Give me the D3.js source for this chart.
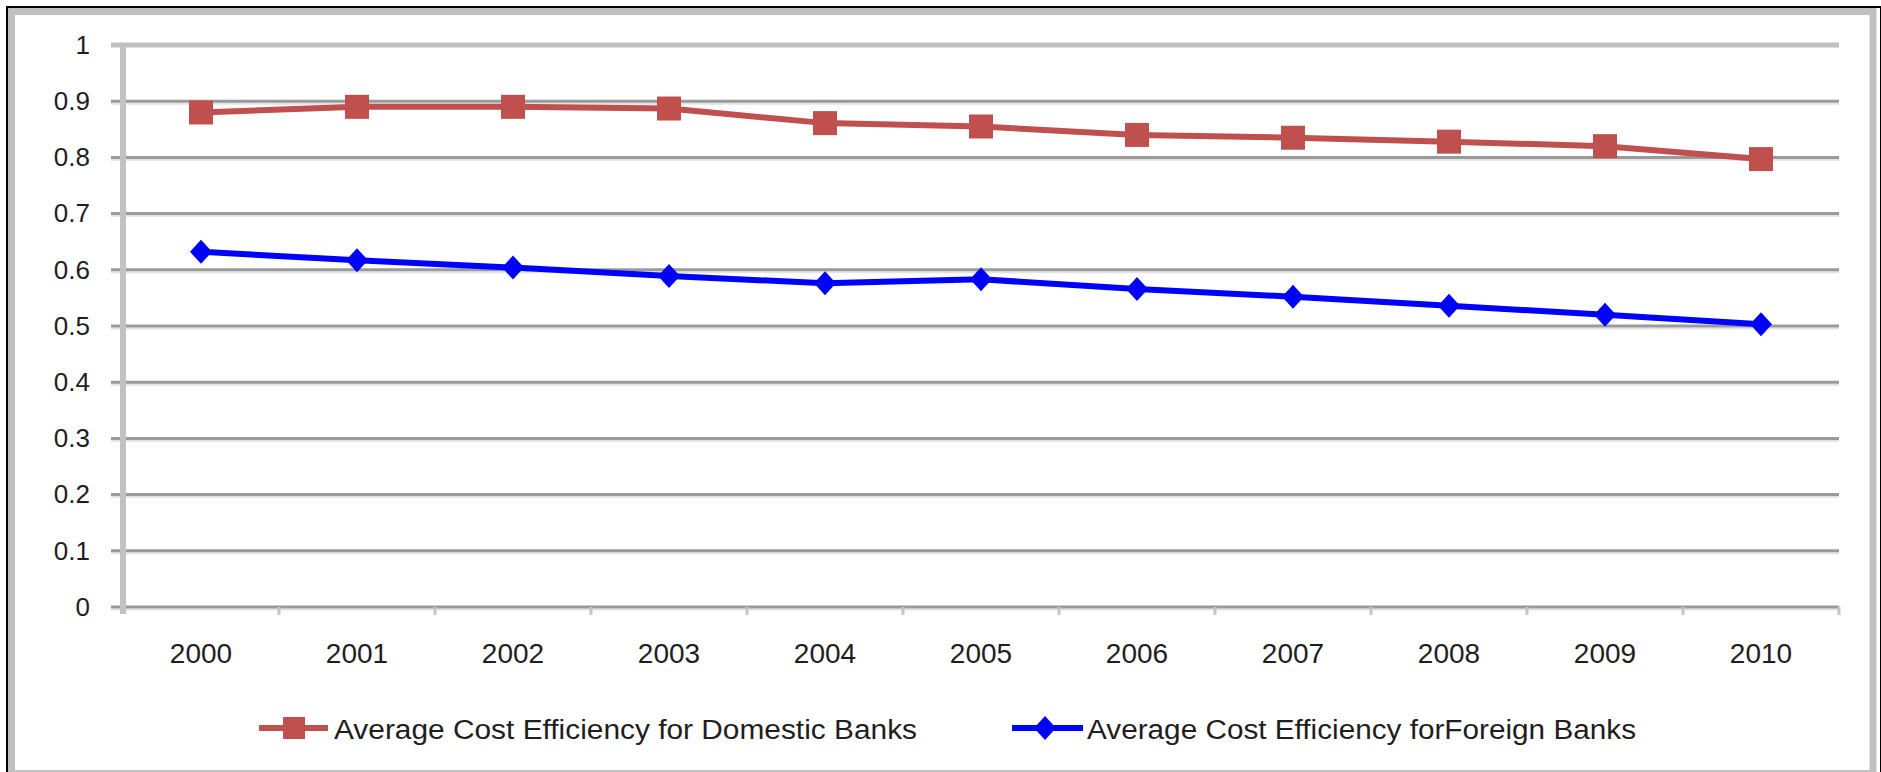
<!DOCTYPE html>
<html>
<head>
    <meta charset="utf-8">
    <title>Average Cost Efficiency</title>
    <script src="https://cdn.jsdelivr.net/npm/d3@7"></script>
    <style>
        body { margin: 0; background: #fff; }
        text { font-family: "Liberation Sans", Arial, sans-serif; fill: #1e1e1e; }
    </style>
</head>
<body>
    <script>
        // data
        var years = ["2000", "2001", "2002", "2003", "2004", "2005", "2006", "2007", "2008", "2009", "2010"];
        var domestic = [0.880, 0.890, 0.890, 0.887, 0.861, 0.855, 0.840, 0.835, 0.828, 0.820, 0.797];
        var foreign = [0.632, 0.617, 0.604, 0.589, 0.576, 0.583, 0.566, 0.552, 0.536, 0.520, 0.503];
        var yTicks = [0, 0.1, 0.2, 0.3, 0.4, 0.5, 0.6, 0.7, 0.8, 0.9, 1];
        var yTickLabels = ["0", "0.1", "0.2", "0.3", "0.4", "0.5", "0.6", "0.7", "0.8", "0.9", "1"];
        var seriesNames = ["Average Cost Efficiency for Domestic Banks", "Average Cost Efficiency forForeign Banks"];

        const W = 1881, H = 772;
        const plot = { left: 123, right: 1839, top: 45, bottom: 607 };

        var svg = d3.select("body")
            .append("svg")
            .attr("width", W)
            .attr("height", H);

        // outer frame
        svg.append("rect")
            .attr("x", 7).attr("y", 7)
            .attr("width", W - 7).attr("height", H)
            .attr("fill", "none")
            .attr("stroke", "#000")
            .attr("stroke-width", 2);
        svg.append("rect")
            .attr("x", 11.5).attr("y", 11.5)
            .attr("width", W - 19.5).attr("height", 762)
            .attr("fill", "none")
            .attr("stroke", "#c0c0c0")
            .attr("stroke-width", 7);

        const x = d3.scaleBand()
            .domain(years)
            .range([plot.left, plot.right])
            .padding(0);

        const y = d3.scaleLinear()
            .domain([0, 1])
            .range([plot.bottom, plot.top]);

        // gridlines
        var grid = svg.append("g");
        grid.selectAll("line.shadow")
            .data(yTicks.slice(0, -1))
            .enter()
            .append("line")
            .attr("class", "shadow")
            .attr("x1", 111).attr("x2", plot.right)
            .attr("y1", function (d) { return y(d) + 2.5; })
            .attr("y2", function (d) { return y(d) + 2.5; })
            .attr("stroke", "#e4e4e4")
            .attr("stroke-width", 2);
        grid.selectAll("line.major")
            .data(yTicks)
            .enter()
            .append("line")
            .attr("class", "major")
            .attr("x1", 111).attr("x2", plot.right)
            .attr("y1", function (d) { return y(d); })
            .attr("y2", function (d) { return y(d); })
            .attr("stroke", function (d) { return d === 1 ? "#c0c0c0" : "#9a9a9a"; })
            .attr("stroke-width", function (d) { return d === 1 ? 5 : 3; });

        // y axis line
        svg.append("line")
            .attr("x1", plot.left).attr("x2", plot.left)
            .attr("y1", plot.top).attr("y2", plot.bottom + 7)
            .attr("stroke", "#c2c2c2")
            .attr("stroke-width", 6);

        // category ticks on the x axis
        var bounds = years.map(function (d) { return x(d); }).concat([plot.right]);
        svg.selectAll("line.xtick")
            .data(bounds.slice(1))
            .enter()
            .append("line")
            .attr("class", "xtick")
            .attr("x1", function (d) { return d; })
            .attr("x2", function (d) { return d; })
            .attr("y1", plot.bottom)
            .attr("y2", plot.bottom + 8)
            .attr("stroke", "#c4c4c4")
            .attr("stroke-width", 3);

        // y axis labels
        var yAxis = d3.axisLeft(y)
            .tickValues(yTicks)
            .tickFormat(function (d, i) { return yTickLabels[i]; })
            .tickSize(0)
            .tickPadding(33);
        var gy = svg.append("g")
            .attr("transform", "translate(" + plot.left + ",0)")
            .call(yAxis);
        gy.select(".domain").remove();
        gy.selectAll("text")
            .attr("font-size", 26)
            .attr("font-family", null)
            .attr("fill", "#1e1e1e");

        // x axis labels
        var xAxis = d3.axisBottom(x)
            .tickSize(0);
        var gx = svg.append("g")
            .attr("transform", "translate(0," + plot.bottom + ")")
            .call(xAxis);
        gx.select(".domain").remove();
        gx.selectAll("text")
            .attr("y", 46)
            .attr("dy", "0.35em")
            .attr("font-size", 28)
            .attr("font-family", null)
            .attr("fill", "#1e1e1e");

        // lines
        var line = d3.line()
            .x(function (d, i) { return x(years[i]) + x.bandwidth() / 2; })
            .y(function (d) { return y(d); });

        svg.append("path")
            .datum(domestic)
            .attr("d", line)
            .attr("fill", "none")
            .attr("stroke", "#c0504d")
            .attr("stroke-width", 6);

        svg.append("path")
            .datum(foreign)
            .attr("d", line)
            .attr("fill", "none")
            .attr("stroke", "#0000ff")
            .attr("stroke-width", 6);

        // markers
        var sq = 24;
        svg.selectAll("rect.dom")
            .data(domestic)
            .enter()
            .append("rect")
            .attr("class", "dom")
            .attr("x", function (d, i) { return x(years[i]) + x.bandwidth() / 2 - sq / 2; })
            .attr("y", function (d) { return y(d) - sq / 2; })
            .attr("width", sq)
            .attr("height", sq)
            .attr("fill", "#c0504d");

        var diamond = "M0,-12L11,0L0,12L-11,0Z";
        svg.selectAll("path.for")
            .data(foreign)
            .enter()
            .append("path")
            .attr("class", "for")
            .attr("d", diamond)
            .attr("transform", function (d, i) {
                return "translate(" + (x(years[i]) + x.bandwidth() / 2) + "," + y(d) + ")";
            })
            .attr("fill", "#0000ff");

        // legend
        var legY = 728;
        svg.append("line")
            .attr("x1", 259).attr("x2", 328)
            .attr("y1", legY).attr("y2", legY)
            .attr("stroke", "#c0504d")
            .attr("stroke-width", 6);
        svg.append("rect")
            .attr("x", 294 - 11).attr("y", legY - 11)
            .attr("width", 22).attr("height", 22)
            .attr("fill", "#c0504d");
        svg.append("text")
            .attr("x", 334)
            .attr("y", legY + 2)
            .attr("dy", "0.35em")
            .attr("font-size", 27)
            .attr("textLength", 583)
            .attr("lengthAdjust", "spacingAndGlyphs")
            .text(seriesNames[0]);

        svg.append("line")
            .attr("x1", 1012).attr("x2", 1083)
            .attr("y1", legY).attr("y2", legY)
            .attr("stroke", "#0000ff")
            .attr("stroke-width", 6);
        svg.append("path")
            .attr("d", diamond)
            .attr("transform", "translate(1045," + legY + ")")
            .attr("fill", "#0000ff");
        svg.append("text")
            .attr("x", 1087)
            .attr("y", legY + 2)
            .attr("dy", "0.35em")
            .attr("font-size", 27)
            .attr("textLength", 549)
            .attr("lengthAdjust", "spacingAndGlyphs")
            .text(seriesNames[1]);
    </script>
</body>
</html>
